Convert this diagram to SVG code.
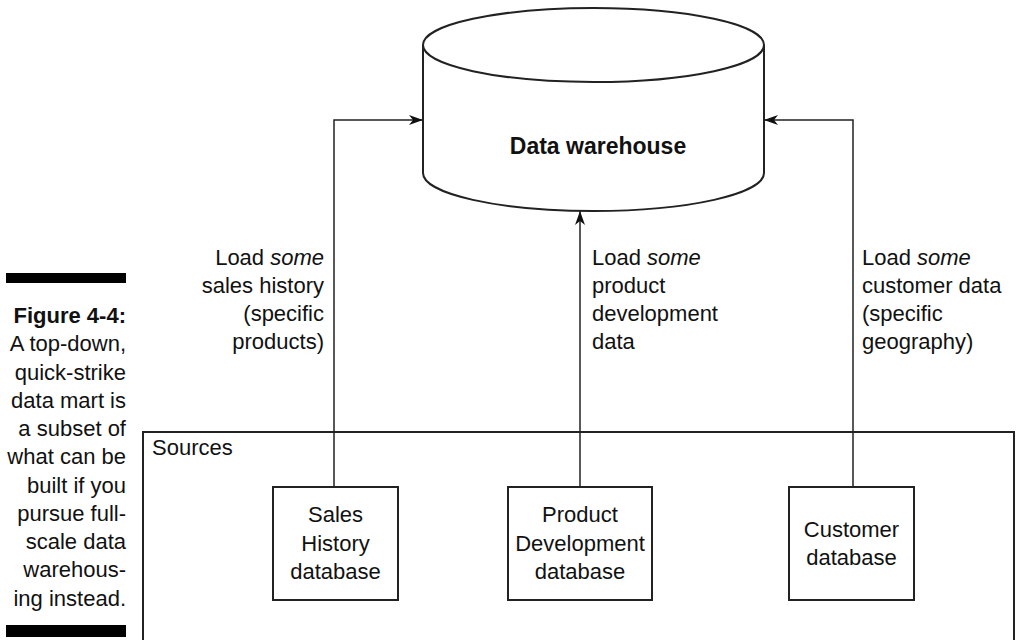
<svg xmlns="http://www.w3.org/2000/svg" width="1017" height="640" viewBox="0 0 1017 640">
<style>
text{font-family:"Liberation Sans",Arial,sans-serif;font-size:22px;fill:#111}
.b{font-weight:bold}
.e{text-anchor:end}
.m{text-anchor:middle}
.ln{fill:none;stroke:#222;stroke-width:1.5}
.box{fill:#fff;stroke:#222;stroke-width:2}
</style>
<defs>
<marker id="ah" viewBox="0 0 14 10" refX="14" refY="5" markerWidth="14" markerHeight="10" markerUnits="userSpaceOnUse" orient="auto">
<path d="M0,0 L14,5 L0,10 L4,5 Z" fill="#111"/>
</marker>
</defs>
<rect width="1017" height="640" fill="#fff"/>
<g id="caption">
<rect x="6" y="273" width="120" height="10" fill="#000"/>
<text class="e b" x="126" y="323">Figure 4-4:</text>
<text class="e" x="126" y="351">A top-down,</text>
<text class="e" x="126" y="380">quick-strike</text>
<text class="e" x="126" y="408">data mart is</text>
<text class="e" x="126" y="436">a subset of</text>
<text class="e" x="126" y="464">what can be</text>
<text class="e" x="126" y="493">built if you</text>
<text class="e" x="126" y="521">pursue full-</text>
<text class="e" x="126" y="549">scale data</text>
<text class="e" x="126" y="577">warehous-</text>
<text class="e" x="126" y="606">ing instead.</text>
<rect x="6" y="625" width="120" height="12" fill="#000"/>
</g>
<g id="sources">
<rect x="143" y="432" width="871" height="220" fill="none" stroke="#222" stroke-width="2"/>
<text x="152" y="455">Sources</text>
</g>
<g id="warehouse">
<path d="M423,45 V173 A170.5,38 0 0,0 764,173 V45" fill="#fff" stroke="#222" stroke-width="2"/>
<ellipse cx="593.5" cy="45" rx="170.5" ry="37" fill="#fff" stroke="#222" stroke-width="2"/>
<text class="m b" x="598" y="154" style="font-size:23px">Data warehouse</text>
</g>
<g id="connectors">
<polyline class="ln" points="334,487 334,120 423,120" marker-end="url(#ah)"/>
<polyline class="ln" points="580,487 580,211" marker-end="url(#ah)"/>
<polyline class="ln" points="853,487 853,120 764,120" marker-end="url(#ah)"/>
</g>
<g id="label-sales">
<text class="e" x="324" y="265">Load <tspan font-style="italic">some</tspan></text>
<text class="e" x="324" y="293">sales history</text>
<text class="e" x="324" y="321">(specific</text>
<text class="e" x="324" y="349">products)</text>
</g>
<g id="label-product">
<text x="592" y="265">Load <tspan font-style="italic">some</tspan></text>
<text x="592" y="293">product</text>
<text x="592" y="321">development</text>
<text x="592" y="349">data</text>
</g>
<g id="label-customer">
<text x="862" y="265">Load <tspan font-style="italic">some</tspan></text>
<text x="862" y="293">customer data</text>
<text x="862" y="321">(specific</text>
<text x="862" y="349">geography)</text>
</g>
<g id="sales-db">
<rect class="box" x="273" y="487" width="125" height="113"/>
<text class="m" x="335.5" y="522">Sales</text>
<text class="m" x="335.5" y="551">History</text>
<text class="m" x="335.5" y="579">database</text>
</g>
<g id="product-db">
<rect class="box" x="508" y="487" width="144" height="113"/>
<text class="m" x="580" y="522">Product</text>
<text class="m" x="580" y="551">Development</text>
<text class="m" x="580" y="579">database</text>
</g>
<g id="customer-db">
<rect class="box" x="789" y="487" width="125" height="113"/>
<text class="m" x="851.5" y="537">Customer</text>
<text class="m" x="851.5" y="565">database</text>
</g>
</svg>
